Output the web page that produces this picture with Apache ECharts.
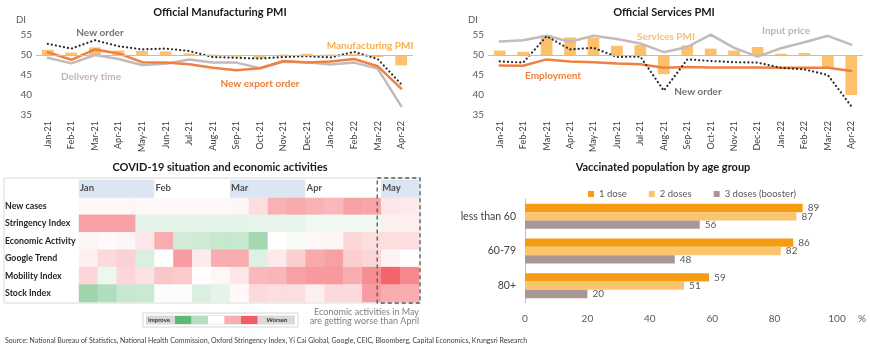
<!DOCTYPE html>
<html>
<head>
<meta charset="utf-8">
<script src="https://cdn.jsdelivr.net/npm/echarts@6/dist/echarts.min.js"></script>
<style>
  html, body { margin: 0; padding: 0; background: #fff; }
  #main { width: 870px; height: 351px; }
</style>
</head>
<body>
<div id="main"></div>
<script>
  // PMI months
  var months = ['Jan-21', 'Feb-21', 'Mar-21', 'Apr-21', 'May-21', 'Jun-21', 'Jul-21', 'Aug-21',
    'Sep-21', 'Oct-21', 'Nov-21', 'Dec-21', 'Jan-22', 'Feb-22', 'Mar-22', 'Apr-22'];
  var manuPMI = [51.3, 50.6, 51.9, 51.1, 51.0, 50.9, 50.4, 50.1, 49.6, 49.2, 50.1, 50.3, 50.1, 50.2, 49.5, 47.4];
  var manuNewOrder = [52.8, 51.6, 53.7, 52.2, 51.4, 51.6, 51.0, 49.5, 49.3, 49.1, 49.5, 49.7, 49.4, 50.8, 49.0, 42.7];
  var manuDelivery = [49.3, 47.9, 50.0, 49.0, 47.5, 47.8, 48.9, 48.1, 48.1, 46.7, 48.3, 48.2, 47.6, 48.1, 46.6, 37.2];
  var manuExport = [50.7, 48.8, 51.4, 50.4, 48.2, 48.1, 47.7, 46.8, 46.2, 46.7, 48.5, 48.1, 48.4, 49.0, 47.2, 41.6];

  var servPMI = [51.1, 50.8, 55.2, 54.4, 54.3, 52.3, 52.5, 45.2, 52.4, 51.6, 51.1, 52.0, 50.3, 50.5, 46.7, 40.0];
  var servInput = [53.4, 53.7, 54.8, 53.3, 54.8, 54.0, 52.9, 50.7, 52.0, 55.1, 51.8, 49.6, 51.7, 53.2, 54.8, 52.6];
  var servEmployment = [47.4, 47.3, 48.9, 48.4, 48.2, 47.9, 47.7, 46.8, 47.0, 46.9, 46.9, 46.9, 46.8, 46.8, 46.8, 46.0];
  var servNewOrder = [48.4, 48.1, 54.7, 51.4, 51.8, 49.5, 49.6, 41.1, 48.9, 48.5, 48.2, 48.1, 46.8, 46.4, 45.0, 37.2];

  // heatmap: weekly columns, score -2 (improve) .. 2 (worsen)
  var heatMonths = ['Jan', 'Feb', 'Mar', 'Apr', 'May'];
  var weeksPerMonth = [4, 4, 4, 4, 2];
  var heatRows = ['New cases', 'Stringency Index', 'Economic Activity', 'Google Trend', 'Mobility Index', 'Stock Index'];
  var newCases = [0.1, 0.1, 0.1, 0.1, 0.08, 0.08, 0.08, 0.08, 0.12, 0.4, 0.95, 1.05, 0.95, 0.85, 1.15, 1.1, 0.3, 0.25];
  var stringency = [1.15, 1.15, 1.15, -0.35, -0.35, -0.35, -0.35, -0.35, -0.35, -0.3, -0.3, -0.3, -0.2, -0.2, -0.2, -0.2, 0.2, 0.2];
  var economic = [0.12, 0.07, 0.12, 0.3, 1.0, -0.6, -0.65, -0.75, -0.75, -1.2, 0, -0.1, 0.1, 0.12, 0.5, 0.4, 0.4, 0.4];
  var google = [0.18, 0.45, 0.55, -0.5, 0, 1.2, 0.25, 1.0, 1.0, -0.45, 0.25, 0.6, 1.05, 1.15, 0.6, 0.5, 0.15, 0.02];
  var mobility = [0.5, -0.25, 0.5, 0.35, 0.7, 0.65, 0.03, 0.1, 0.3, 0.85, 0.9, 1.15, 1.25, 1.25, 1.0, 1.4, 1.9, 1.45];
  var stock = [-1.25, -1.05, -0.75, -0.7, -0.05, -0.05, -0.5, -0.35, 0.08, 0.45, 0.4, 0.4, 0.2, 0.45, 0.45, 1.2, 1.0, 1.0];
  var heatColors = ['#5db876', '#b4dfbf', '#ffffff', '#f8adb0', '#f25c63'];

  // vaccination
  var ageGroups = ['less than 60', '60-79', '80+'];
  var dose1 = [89, 86, 59];
  var dose2 = [87, 82, 51];
  var dose3 = [56, 48, 20];

  var FONT = 'Lato';
  var C_BAR = '#fbc16c';
  var C_ORANGE = '#ef8042';
  var C_GRAY = '#c4baba';
  var C_DOT = '#2b2b2b';
  var DOTS = [0.1, 4];

  var heatGrid = {left: 79, top: 180, width: 340, height: 122};
  var vaccGrid = {left: 525, top: 199, width: 312, height: 104};
  var nCols = 18;
  var colW = heatGrid.width / nCols;

  var heatData = [];
  [newCases, stringency, economic, google, mobility, stock].forEach(function (row, r) {
    row.forEach(function (v, c) {
      heatData.push([c, r + 1, v]);
    });
  });
  var headerData = [];
  var headerLabels = [];
  var col = 0;
  weeksPerMonth.forEach(function (n, m) {
    headerLabels.push([col, 0]);
    for (var i = 0; i < n; i++) {
      headerData.push({value: [col, 0, 0], itemStyle: {color: m % 2 === 0 ? '#dce6f2' : '#ffffff'}});
      col++;
    }
  });
  var cols = [];
  for (var i = 0; i < nCols; i++) cols.push('w' + i);

  function pmiLine(name, data, xi, yi, color, width, type) {
    return {
      name: name, type: 'line', xAxisIndex: xi, yAxisIndex: yi, data: data,
      symbol: 'none', clip: false, z: 3, silent: true,
      lineStyle: {color: color, width: width, type: type || 'solid', cap: 'round'}
    };
  }
  function pmiBars(data, xi, yi) {
    return {
      type: 'bar', xAxisIndex: xi, yAxisIndex: yi, barWidth: '50%', silent: true,
      data: data.map(function (v) { return +(v - 50).toFixed(2); }),
      itemStyle: {color: C_BAR},
      markLine: {
        silent: true, symbol: 'none', label: {show: false},
        lineStyle: {color: '#bfbfbf', width: 1, type: 'solid'},
        data: [{yAxis: 0}]
      }
    };
  }
  function pmiYAxis(grid) {
    return {
      type: 'value', gridIndex: grid, min: 35, max: 55, interval: 5,
      name: 'DI', nameLocation: 'end', nameGap: 10,
      nameTextStyle: {fontFamily: FONT, fontSize: 9.5, color: '#595959', align: 'right', padding: [0, 10, 0, 0]},
      axisLine: {show: false}, axisTick: {show: false}, splitLine: {show: false},
      axisLabel: {fontFamily: FONT, fontSize: 10, color: '#595959', margin: 4}
    };
  }
  function pmiXAxis(grid) {
    return {
      type: 'category', gridIndex: grid, data: months,
      axisLine: {show: false}, axisTick: {show: false},
      axisLabel: {rotate: 90, interval: 0, fontFamily: FONT, fontSize: 9, color: '#404040', margin: 6}
    };
  }
  function txt(x, y, text, color, size, weight, align) {
    return {
      type: 'text', x: x, y: y, silent: true,
      style: {text: text, fill: color, font: (weight || 'bold') + ' ' + size + 'px ' + FONT,
        align: align || 'center', verticalAlign: 'middle'}
    };
  }

  var chart = echarts.init(document.getElementById('main'));
  var option = {
    animation: false,
    textStyle: {fontFamily: FONT},
    grid: [
      {left: 36, top: 35, width: 377, height: 80},
      {left: 488, top: 35, width: 375, height: 80},
      heatGrid,
      vaccGrid
    ],
    xAxis: [
      pmiXAxis(0),
      pmiXAxis(1),
      {type: 'category', gridIndex: 2, data: cols, show: false},
      {
        type: 'value', gridIndex: 3, min: 0, max: 100, interval: 20,
        axisLine: {show: false}, axisTick: {show: false}, splitLine: {show: false},
        axisLabel: {fontFamily: FONT, fontSize: 10, color: '#595959', margin: 11}
      }
    ],
    yAxis: [
      pmiYAxis(0),
      {type: 'value', gridIndex: 0, min: -15, max: 5, show: false},
      pmiYAxis(1),
      {type: 'value', gridIndex: 1, min: -15, max: 5, show: false},
      {
        type: 'category', gridIndex: 2, data: [''].concat(heatRows), inverse: true,
        axisLine: {show: false}, axisTick: {show: false},
        axisLabel: {fontFamily: FONT, fontWeight: 'bold', fontSize: 8.8, color: '#262626', align: 'left', margin: 74}
      },
      {
        type: 'category', gridIndex: 3, data: ageGroups, inverse: true,
        axisLine: {show: true, lineStyle: {color: '#bfbfbf'}}, axisTick: {show: false},
        axisLabel: {fontFamily: FONT, fontSize: 10.5, color: '#404040', margin: 9}
      }
    ],
    visualMap: {
      type: 'continuous', show: false, seriesIndex: 8, dimension: 2,
      min: -2, max: 2, inRange: {color: heatColors}
    },
    legend: {
      data: ['1 dose', '2 doses', '3 doses (booster)'],
      left: 583, top: 184, icon: 'rect', itemWidth: 6, itemHeight: 6, itemGap: 22,
      textStyle: {fontFamily: FONT, fontSize: 9.5, color: '#595959'}
    },
    series: [
      pmiBars(manuPMI, 0, 1),
      pmiLine('Delivery time', manuDelivery, 0, 0, C_GRAY, 2.5),
      pmiLine('New export order', manuExport, 0, 0, C_ORANGE, 2.5),
      pmiLine('New order', manuNewOrder, 0, 0, C_DOT, 2.2, DOTS),

      pmiBars(servPMI, 1, 3),
      pmiLine('Input price', servInput, 1, 2, C_GRAY, 2.5),
      pmiLine('Employment', servEmployment, 1, 2, C_ORANGE, 2.5),
      pmiLine('New order', servNewOrder, 1, 2, C_DOT, 2.2, DOTS),

      {
        type: 'heatmap', xAxisIndex: 2, yAxisIndex: 4, data: heatData, silent: true,
        itemStyle: {borderWidth: 0}
      },
      {
        type: 'heatmap', xAxisIndex: 2, yAxisIndex: 4, data: headerData, silent: true,
        itemStyle: {borderWidth: 0}
      },
      {
        type: 'scatter', xAxisIndex: 2, yAxisIndex: 4, data: headerLabels, silent: true,
        symbolSize: 1, itemStyle: {color: 'rgba(0,0,0,0)'}, z: 5,
        label: {
          show: true, position: [-8, 0], align: 'left', verticalAlign: 'middle',
          fontFamily: FONT, fontWeight: 'bold', fontSize: 9.5, color: '#262626',
          formatter: function (p) { return heatMonths[p.dataIndex]; }
        }
      },

      {
        name: '1 dose', type: 'bar', xAxisIndex: 3, yAxisIndex: 5, data: dose1,
        barGap: '0%', barCategoryGap: '28%', itemStyle: {color: '#f69c12'},
        label: {show: true, position: 'right', distance: 5, fontFamily: FONT, fontSize: 10, color: '#595959'}
      },
      {
        name: '2 doses', type: 'bar', xAxisIndex: 3, yAxisIndex: 5, data: dose2,
        barGap: '0%', barCategoryGap: '28%', itemStyle: {color: '#fbc46f'},
        label: {show: true, position: 'right', distance: 5, fontFamily: FONT, fontSize: 10, color: '#595959'}
      },
      {
        name: '3 doses (booster)', type: 'bar', xAxisIndex: 3, yAxisIndex: 5, data: dose3,
        barGap: '0%', barCategoryGap: '28%', itemStyle: {color: '#a99696'},
        label: {show: true, position: 'right', distance: 5, fontFamily: FONT, fontSize: 10, color: '#595959'}
      }
    ],
    graphic: [
      txt(220, 12, 'Official Manufacturing PMI', '#1a1a1a', 11),
      txt(664, 12, 'Official Services PMI', '#1a1a1a', 11),
      txt(220, 167, 'COVID-19 situation and economic activities', '#1a1a1a', 11),
      txt(663, 167, 'Vaccinated population by age group', '#1a1a1a', 11),

      txt(100, 33, 'New order', '#7a7070', 10),
      txt(370, 46, 'Manufacturing PMI', '#f5b04f', 10),
      txt(91, 77, 'Delivery time', '#c4b4b4', 10),
      txt(260, 84, 'New export order', '#ee7d35', 10),

      txt(666, 37, 'Services PMI', '#f8c070', 10),
      txt(786, 31, 'Input price', '#bfb3b3', 10),
      txt(553, 76, 'Employment', '#ee7d35', 10),
      txt(698, 92, 'New order', '#7a7070', 10),

      // unit of the vaccination axis, on the tick-label row
      txt(vaccGrid.left + vaccGrid.width + 25, vaccGrid.top + vaccGrid.height + 16, '%', '#595959', 10, 'normal'),

      // table frame and May box
      {type: 'rect', silent: true, z: -1,
        shape: {x: 4, y: heatGrid.top - 2, width: heatGrid.left + heatGrid.width - 3, height: heatGrid.height + 3},
        style: {fill: 'none', stroke: '#d9d9d9', lineWidth: 1}},
      {type: 'rect', silent: true, z: 10,
        shape: {x: heatGrid.left + 16 * colW - 4, y: heatGrid.top - 2, width: 2 * colW + 5, height: heatGrid.height + 3},
        style: {fill: 'none', stroke: '#595959', lineWidth: 1.3, lineDash: [4, 3]}},

      // colour key
      {type: 'rect', silent: true, shape: {x: 143, y: 313, width: 155, height: 14},
        style: {fill: '#ffffff', stroke: '#d6d6d6', lineWidth: 1}},
      {type: 'rect', silent: true, shape: {x: 146, y: 315.5, width: 149, height: 9},
        style: {fill: '#ddd8d8'}},
      {type: 'rect', silent: true, shape: {x: 175, y: 316, width: 16.5, height: 8}, style: {fill: heatColors[0]}},
      {type: 'rect', silent: true, shape: {x: 191.5, y: 316, width: 16.5, height: 8}, style: {fill: heatColors[1]}},
      {type: 'rect', silent: true, shape: {x: 208, y: 316, width: 16.5, height: 8}, style: {fill: heatColors[2]}},
      {type: 'rect', silent: true, shape: {x: 224.5, y: 316, width: 16.5, height: 8}, style: {fill: heatColors[3]}},
      {type: 'rect', silent: true, shape: {x: 241, y: 316, width: 16.5, height: 8}, style: {fill: heatColors[4]}},
      txt(159, 320, 'Improve', '#333333', 6),
      txt(277, 320, 'Worsen', '#333333', 6),

      txt(419, 312, 'Economic activities in May', '#808080', 9, 'normal', 'right'),
      txt(419, 321.5, 'are getting worse than April', '#808080', 9, 'normal', 'right'),

      txt(5, 341, 'Source: National Bureau of Statistics, National Health Commission, Oxford Stringency Index, Yi Cai Global, Google, CEIC, Bloomberg, Capital Economics, Krungsri Research',
        '#404040', 7, 'normal', 'left')
    ]
  };
  chart.setOption(option);
</script>
</body>
</html>
